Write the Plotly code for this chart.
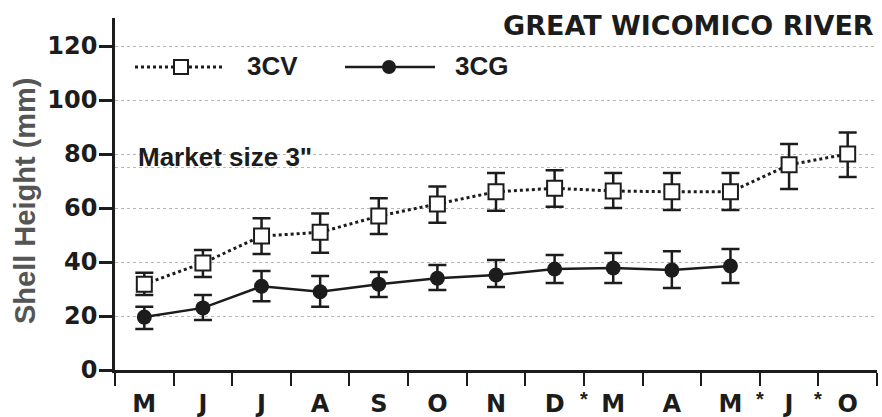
import plotly.graph_objects as go

# ---- data ----
months = ["M", "J", "J", "A", "S", "O", "N", "D", "M", "A", "M", "J", "O"]
gap_after = [7, 10, 11]            # asterisks between these months and the next
cv_mean = [31.8, 39.6, 49.6, 51.0, 57.0, 61.5, 66.0, 67.3, 66.3, 66.0, 66.0, 76.0, 80.0]
cv_hi   = [36.0, 44.4, 56.2, 58.0, 63.6, 68.0, 73.0, 74.0, 73.0, 73.0, 73.0, 83.7, 88.0]
cv_lo   = [27.8, 34.4, 43.0, 43.4, 50.4, 54.5, 59.0, 60.5, 60.0, 59.3, 59.3, 67.0, 71.5]
cg_mean = [19.6, 23.0, 31.0, 29.0, 31.8, 34.0, 35.2, 37.4, 37.8, 37.0, 38.5]
cg_hi   = [23.4, 27.8, 36.7, 34.8, 36.3, 38.9, 40.7, 42.6, 43.3, 44.0, 44.8]
cg_lo   = [15.2, 18.5, 25.5, 23.4, 27.0, 29.6, 30.7, 32.2, 32.2, 30.4, 32.2]
y_ticks = [0, 20, 40, 60, 80, 100, 120]
market_size = 75

INK = "#1c1c1c"
FONT = "Liberation Sans, Arial, Helvetica, sans-serif"
WIDE = "DejaVu Sans, Liberation Sans, sans-serif"

x_cv = list(range(len(cv_mean)))
x_cg = list(range(len(cg_mean)))

fig = go.Figure()

# market size reference line
fig.add_trace(go.Scatter(
    x=[-0.5, len(months) - 0.5], y=[market_size, market_size], mode="lines",
    line=dict(color="#b8b8b8", width=1.2, dash="dot"), hoverinfo="skip", showlegend=False))

fig.add_trace(go.Scatter(
    x=x_cv, y=cv_mean, mode="lines+markers", name="3CV", showlegend=False,
    line=dict(color=INK, width=3, dash="dot"),
    marker=dict(symbol="square", size=15, color="white", line=dict(color=INK, width=2)),
    error_y=dict(type="data", symmetric=False,
                 array=[h - m for h, m in zip(cv_hi, cv_mean)],
                 arrayminus=[m - l for l, m in zip(cv_lo, cv_mean)],
                 color=INK, thickness=2.5, width=9),
))

fig.add_trace(go.Scatter(
    x=x_cg, y=cg_mean, mode="lines+markers", name="3CG", showlegend=False,
    line=dict(color=INK, width=2.5),
    marker=dict(symbol="circle", size=15, color=INK, line=dict(color=INK, width=0)),
    error_y=dict(type="data", symmetric=False,
                 array=[h - m for h, m in zip(cg_hi, cg_mean)],
                 arrayminus=[m - l for l, m in zip(cg_lo, cg_mean)],
                 color=INK, thickness=2.5, width=9),
))

# plot-area geometry helpers (paper coords)
L, R, T, B = 115, 877, 18, 370
W, H = 882, 417
def px(xp):
    return (xp - L) / (R - L)
def py(yp):
    return (B - yp) / (B - T)

ann = []
ann.append(dict(text="GREAT WICOMICO RIVER", xref="paper", yref="paper", x=px(876), y=py(25),
                xanchor="right", yanchor="middle", showarrow=False,
                font=dict(family=WIDE, size=27, color=INK, weight="bold")))
ann.append(dict(text="Market size 3\"", xref="paper", yref="paper", x=px(136), y=py(157),
                xanchor="left", yanchor="middle", showarrow=False,
                font=dict(family=FONT, size=26, color=INK, weight="bold")))
ann.append(dict(text="3CV", xref="paper", yref="paper", x=px(245), y=py(66),
                xanchor="left", yanchor="middle", showarrow=False,
                font=dict(family=FONT, size=26, color=INK, weight="bold")))
ann.append(dict(text="3CG", xref="paper", yref="paper", x=px(453), y=py(66),
                xanchor="left", yanchor="middle", showarrow=False,
                font=dict(family=FONT, size=26, color=INK, weight="bold")))
ann.append(dict(text="Shell Height (mm)", xref="paper", yref="paper", x=px(25), y=py(201),
                xanchor="center", yanchor="middle", showarrow=False, textangle=-90,
                font=dict(family=FONT, size=29, color="#555555", weight="bold")))
for g in gap_after:
    ann.append(dict(text="*", xref="x", yref="paper", x=g + 0.5, y=py(399),
                    xanchor="center", yanchor="middle", showarrow=False,
                    font=dict(family=FONT, size=20, color=INK, weight="bold")))

shapes = []
# legend samples
shapes.append(dict(type="line", xref="paper", yref="paper", x0=px(135), x1=px(224), y0=py(67), y1=py(67),
                   line=dict(color=INK, width=3, dash="dot")))
shapes.append(dict(type="rect", xref="paper", yref="paper", x0=px(174), x1=px(188), y0=py(60), y1=py(74),
                   fillcolor="white", line=dict(color=INK, width=2)))
shapes.append(dict(type="line", xref="paper", yref="paper", x0=px(345), x1=px(435), y0=py(67), y1=py(67),
                   line=dict(color=INK, width=2.5)))
shapes.append(dict(type="circle", xref="paper", yref="paper", x0=px(382), x1=px(396), y0=py(60), y1=py(74),
                   fillcolor=INK, line=dict(color=INK, width=0)))

fig.update_layout(
    width=W, height=H,
    margin=dict(l=L, r=W - R, t=T, b=H - B, pad=0, autoexpand=False),
    paper_bgcolor="white", plot_bgcolor="white",
    annotations=ann, shapes=shapes,
    showlegend=False,
    xaxis=dict(
        range=[-0.5, len(months) - 0.5], automargin=False,
        tickmode="array", tickvals=list(range(len(months))), ticktext=months,
        ticks="", showgrid=False, zeroline=False,
        showline=True, linecolor=INK, linewidth=2.5,
        tickfont=dict(family=WIDE, size=24, color=INK, weight="bold"),
        ticklabelstandoff=10,
        minor=dict(tickmode="array", tickvals=[i - 0.5 for i in range(len(months) + 1)],
                   ticks="outside", ticklen=13, tickwidth=2, tickcolor=INK, showgrid=False),
        fixedrange=True,
    ),
    yaxis=dict(
        range=[0, (B - T) / 2.7], automargin=False,
        tickmode="array", tickvals=y_ticks,
        ticks="outside", ticklen=13, tickwidth=2.5, tickcolor=INK,
        showline=True, linecolor=INK, linewidth=2.5,
        showgrid=True, gridcolor="#b5b5b5", griddash="dot", gridwidth=1.2,
        zeroline=False,
        tickfont=dict(family=WIDE, size=24, color=INK, weight="bold"),
        ticklabelstandoff=-3,
        fixedrange=True,
    ),
)

fig.write_html("out.html")
